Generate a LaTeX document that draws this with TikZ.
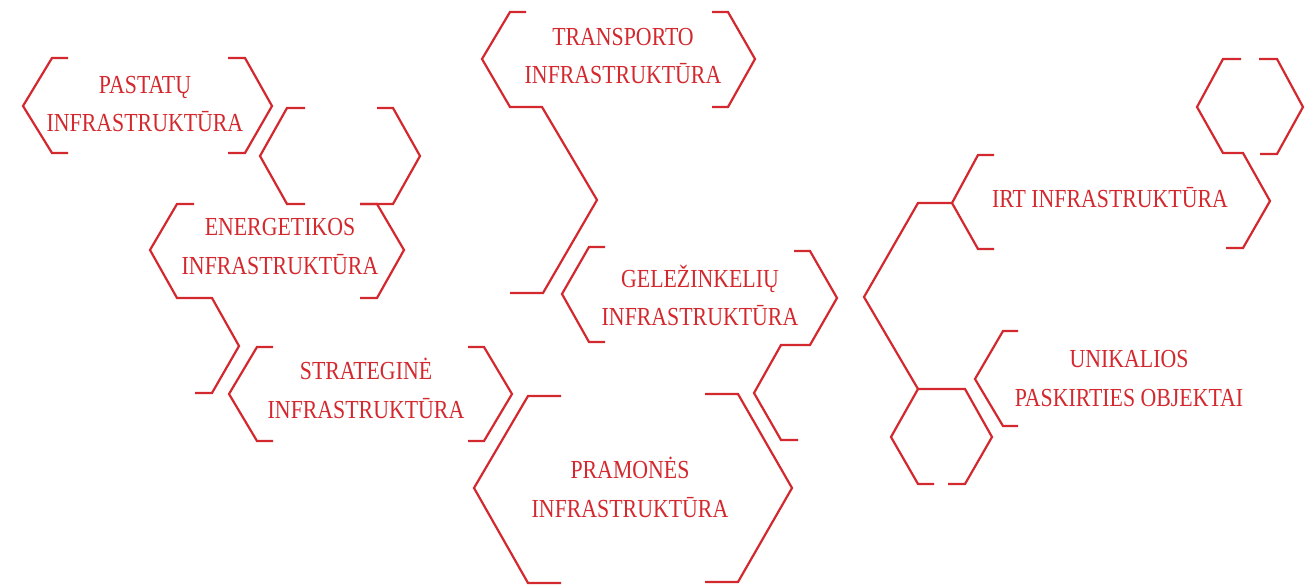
\documentclass[tikz,border=0pt]{standalone}
\usepackage{fontspec}
\setmainfont{Liberation Serif}[FakeStretch=0.84]
\usepackage{xcolor}
\usepackage{tikz}
\definecolor{hexred}{RGB}{211,40,46}
\tikzstyle{hexline} = [draw=hexred, line width=2.2pt]
\tikzstyle{hextext} = [text=hexred,
inner sep=0pt,
align=center,
font=\fontsize{26}{38.5}\selectfont]

\begin{document}
\begin{tikzpicture}[x=1pt, y=-1pt]
		\useasboundingbox (0,0) rectangle (1312,585);
		
		\draw [hexline] (68,58) -- (52,58) -- (23,106) -- (52,153) -- (68,153);
		\draw [hexline] (228,58) -- (245,58) -- (272,106) -- (245,153) -- (228,153);
		
		\draw [hexline] (305,108) -- (287,108) -- (260,156) -- (287,204) -- (305,204);
		\draw [hexline] (377,108) -- (393,108) -- (420,156) -- (393,204) -- (360,204);
		
		\draw [hexline] (194,204) -- (177,204) -- (150,250) -- (177,298) -- (212,298) -- (239,346) -- (212,393) -- (195,393);
		\draw [hexline] (360,204) -- (377,204) -- (404,250) -- (377,298) -- (360,298);
		
		\draw [hexline] (273,347) -- (257,347) -- (229,394) -- (257,441) -- (273,441);
		\draw [hexline] (468,347) -- (484,347) -- (512,394) -- (484,441) -- (468,441);
		
		\draw [hexline] (561,396) -- (528,396) -- (474,488) -- (528,583) -- (561,583);
		\draw [hexline] (705,394) -- (738,394) -- (792,488) -- (738,582) -- (705,582);
		
		\draw [hexline] (526,12) -- (510,12) -- (482,59) -- (510,107) -- (542,107) -- (597,200) -- (543,293) -- (510,293);
		\draw [hexline] (712,12) -- (728,12) -- (755,59) -- (728,107) -- (712,107);
		
		\draw [hexline] (605,247) -- (589,247) -- (562,294) -- (589,342) -- (605,342);
		\draw [hexline] (794,251) -- (810,251) -- (837,298) -- (810,345) -- (781,345) -- (754,393) -- (781,440) -- (798,440);
		
		\draw [hexline] (1241,59) -- (1223,59) -- (1197,107) -- (1223,153) -- (1243,153) -- (1270,201) -- (1243,248) -- (1226,248);
		\draw [hexline] (1259,59) -- (1277,59) -- (1303,107) -- (1277,154) -- (1260,154);
		
		\draw [hexline] (994,155) -- (978,155) -- (952,203) -- (978,249) -- (994,249);
		\draw [hexline] (952,203) -- (918,203) -- (864,297) -- (918,389);
		\draw [hexline] (948,484) -- (965,484) -- (992,437) -- (965,389) -- (918,389) -- (891,437) -- (918,484) -- (934,484);
		
		\draw [hexline] (1018,331) -- (1003,331) -- (975,379) -- (1003,426) -- (1018,426);
		
		\node (pastatu) [hextext] at (145,105) {\strut PASTATŲ\\\strut INFRASTRUKTŪRA};
		\node (energetikos) [hextext] at (280,247.5) {\strut ENERGETIKOS\\\strut INFRASTRUKTŪRA};
		\node (strategine) [hextext] at (366,391.5) {\strut STRATEGINĖ\\\strut INFRASTRUKTŪRA};
		\node (pramones) [hextext] at (630,490.5) {\strut PRAMONĖS\\\strut INFRASTRUKTŪRA};
		\node (transporto) [hextext] at (623,57) {\strut TRANSPORTO\\\strut INFRASTRUKTŪRA};
		\node (gelezinkeliu) [hextext] at (700,299) {\strut GELEŽINKELIŲ\\\strut INFRASTRUKTŪRA};
		\node (irt) [hextext] at (1110,200) {\strut IRT INFRASTRUKTŪRA};
		\node (unikalios) [hextext] at (1129,379.5) {\strut UNIKALIOS\\\strut PASKIRTIES OBJEKTAI};
	\end{tikzpicture}
\end{document}
